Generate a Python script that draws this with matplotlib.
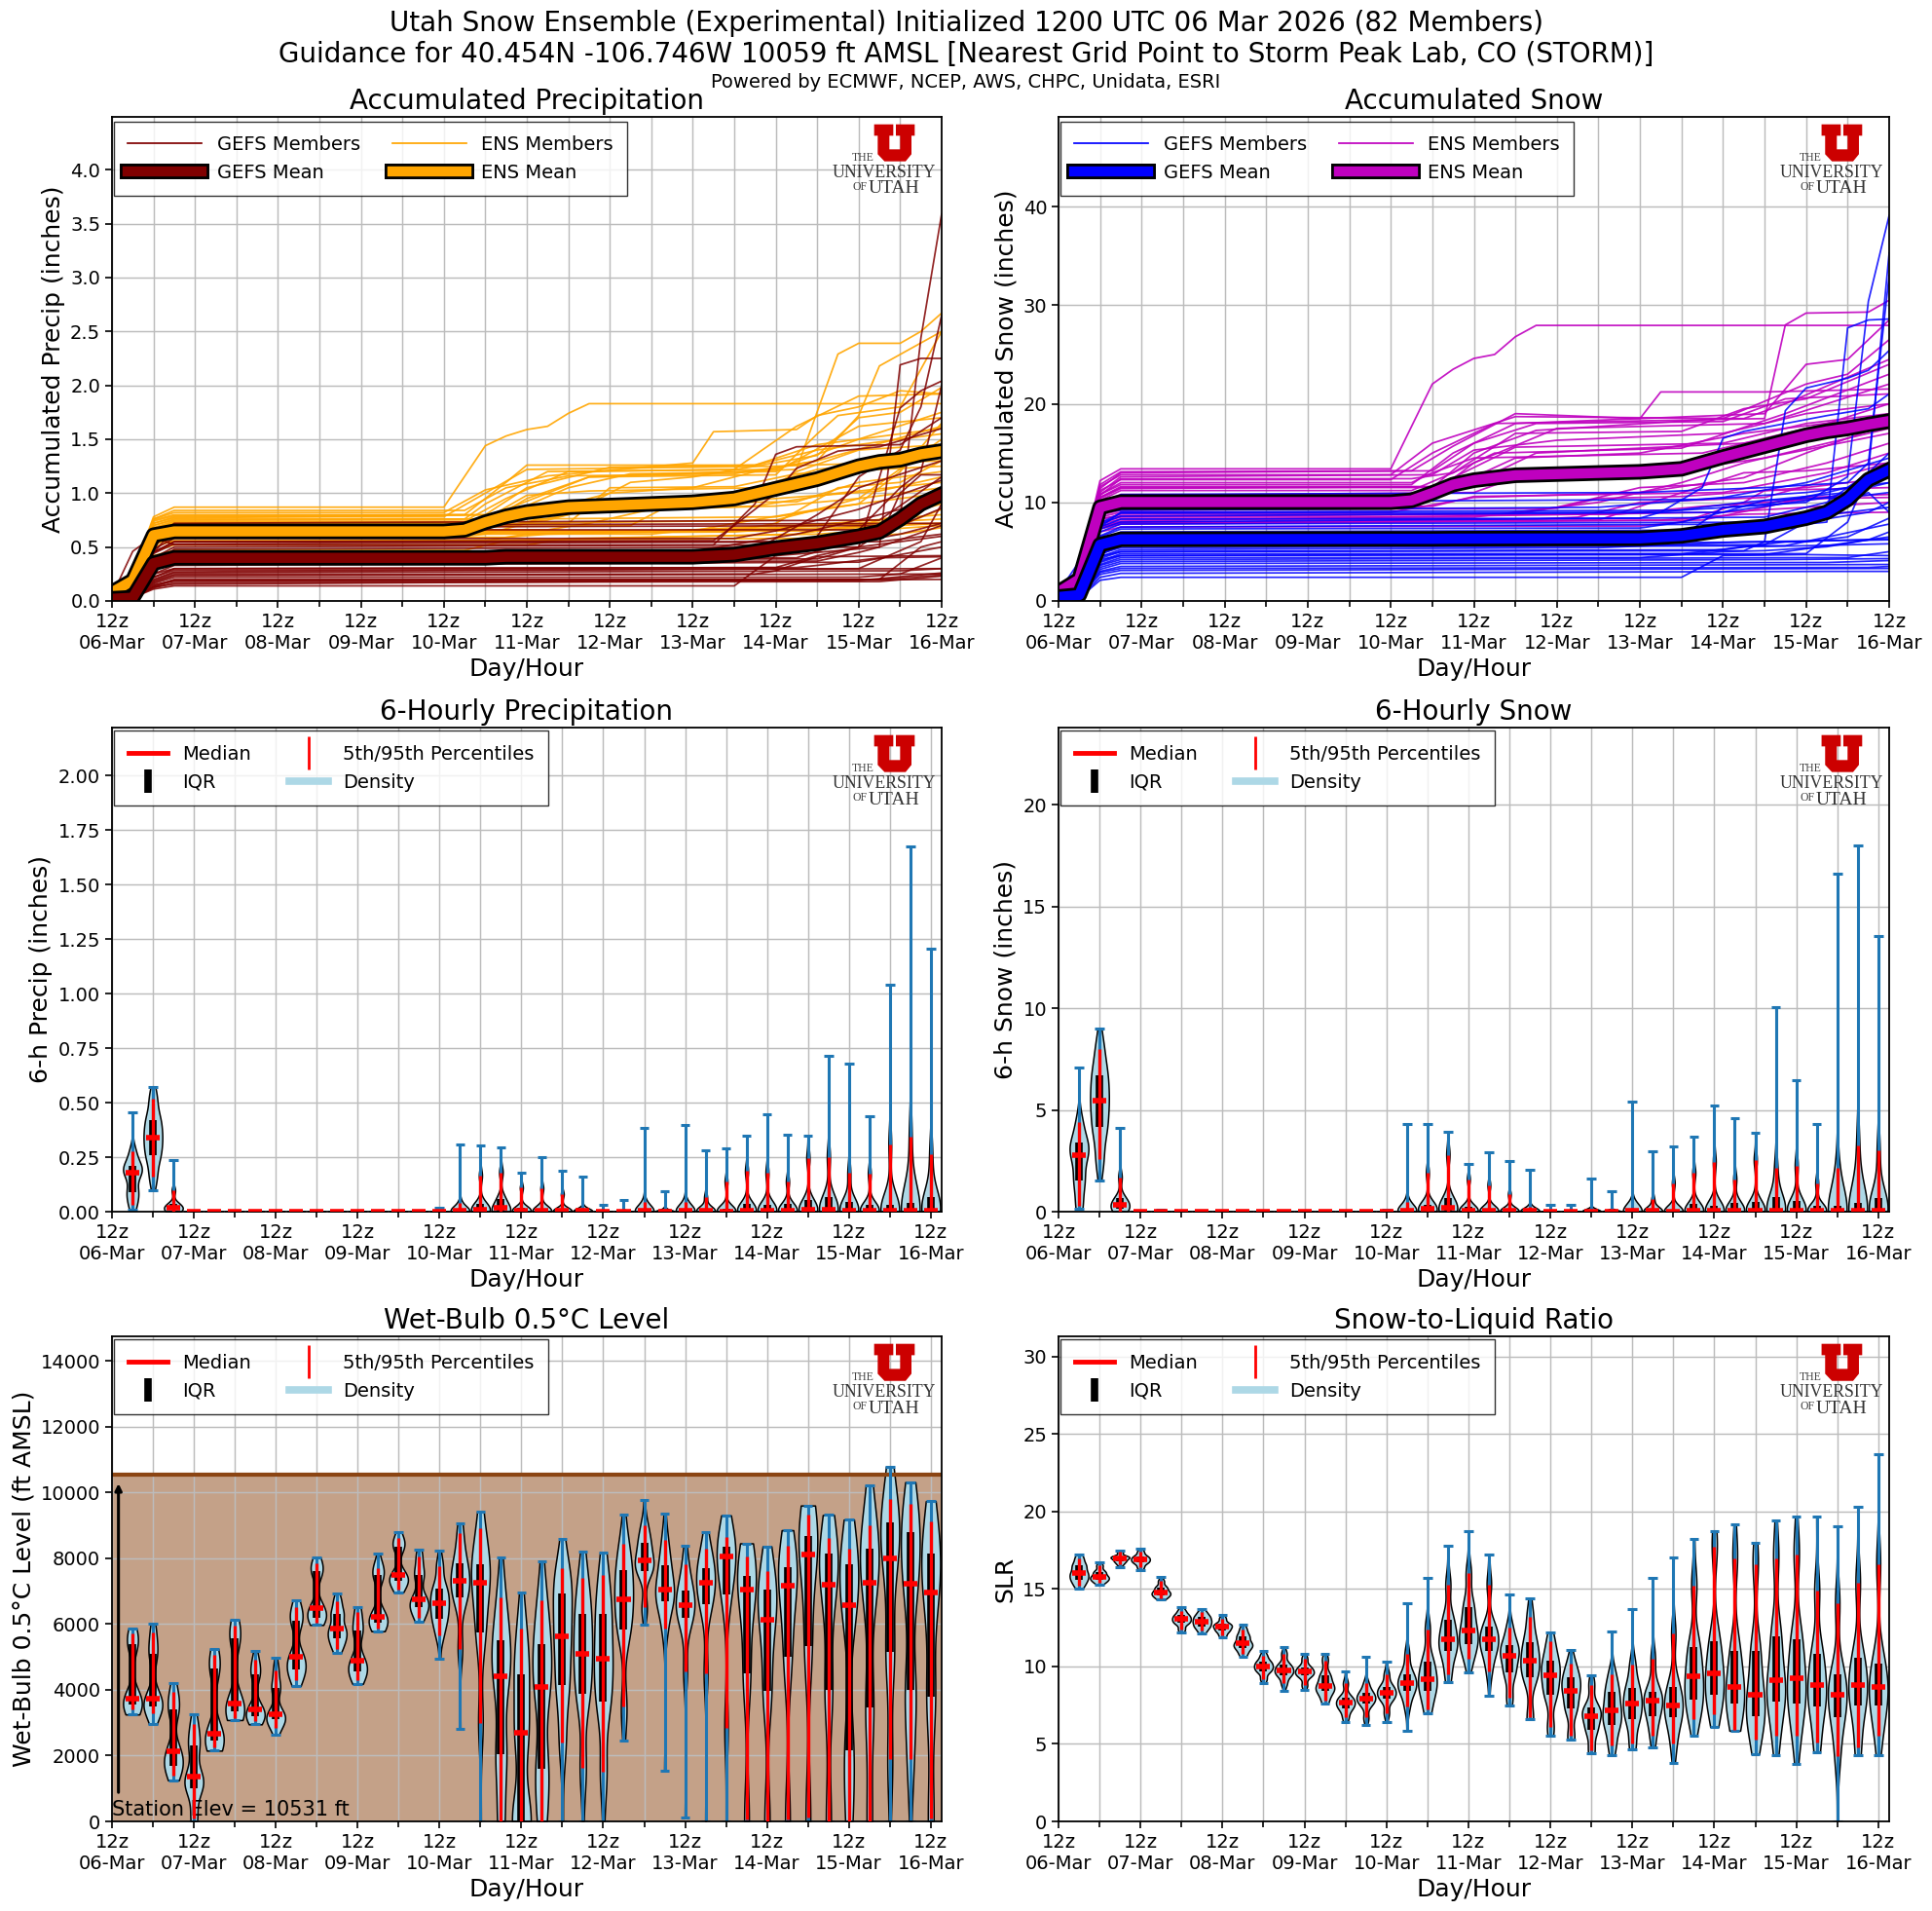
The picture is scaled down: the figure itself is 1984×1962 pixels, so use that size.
import numpy as np
import matplotlib
matplotlib.use("Agg")
import matplotlib.pyplot as plt
from matplotlib.lines import Line2D
from matplotlib.patches import Polygon
from matplotlib.ticker import MultipleLocator, FixedLocator, FixedFormatter, NullFormatter
import matplotlib.patheffects as pe

W, H = 1984, 1962
days = ["06-Mar", "07-Mar", "08-Mar", "09-Mar", "10-Mar", "11-Mar", "12-Mar", "13-Mar", "14-Mar", "15-Mar", "16-Mar"]
day_hours = [24*i for i in range(11)]
half_day_hours = [12 + 24*i for i in range(10)]
violin_hours = [6*i for i in range(1, 41)]

# ensemble means
mean_hours = [0, 6, 12, 18, 96, 102, 108, 114, 120, 132, 168, 180, 192, 204, 216, 222, 228, 234, 240]
gefs_precip_mean = [.02, .03, .35, .40, .40, .40, .40, .41, .41, .41, .41, .43, .49, .535, .60, .64, .76, .90, .99]
ens_precip_mean = [.08, .19, .61, .645, .645, .66, .73, .785, .825, .87, .915, .95, 1.04, 1.13, 1.25, 1.29, 1.31, 1.36, 1.39]
gefs_snow_mean = [.4, .6, 5.7, 6.25, 6.3, 6.3, 6.3, 6.32, 6.32, 6.33, 6.35, 6.6, 7.2, 7.55, 8.4, 9, 10.3, 12.3, 13.3]
ens_snow_mean = [.9, 2.2, 9.5, 10.03, 10.03, 10.2, 10.95, 11.8, 12.25, 12.75, 13.1, 13.4, 14.6, 15.7, 16.8, 17.2, 17.5, 17.9, 18.25]

# members, read as (hour, value) knots of each line
gefs_precip_members = [
    [(0,.02),(6,.03),(12,.11),(18,.14),(180,.14),(192,.42),(204,.45),(222,.5),(240,.7)],
    [(0,.02),(6,.03),(12,.12),(18,.17),(222,.18),(240,.23)],
    [(0,.02),(6,.04),(12,.14),(18,.2),(222,.2),(240,.24)],
    [(0,.02),(6,.04),(12,.16),(18,.22),(216,.22),(228,.25),(240,.4)],
    [(0,.02),(6,.04),(12,.18),(18,.245),(186,.25),(192,.28),(204,.41),(240,.42)],
    [(0,.02),(6,.05),(12,.2),(18,.27),(216,.3),(234,.55),(240,.9)],
    [(0,.03),(6,.05),(12,.22),(18,.30),(198,.31),(204,.33),(222,.4),(240,.41)],
    [(0,.03),(6,.05),(12,.25),(18,.33),(216,.36),(240,.5)],
    [(0,.03),(6,.06),(12,.3),(18,.36),(204,.37),(216,.45),(222,.5),(228,2.19),(234,2.25),(240,2.25)],
    [(0,.03),(6,.06),(12,.32),(18,.38),(204,.39),(216,.5),(228,.76),(234,2.44),(240,3.59)],
    [(0,.03),(6,.06),(12,.25),(18,.30),(192,.31),(204,.42),(216,.5),(228,1.79),(234,1.95),(240,2.04)],
    [(0,.05),(6,.46),(12,.6),(18,.52),(174,.52),(186,.9),(192,1.36),(198,1.43),(228,1.45),(240,1.7)],
    [(0,.04),(6,.2),(12,.45),(18,.55),(174,.56),(180,.7),(192,1.0),(198,1.23),(210,1.39),(222,1.43),(240,1.6)],
    [(0,.04),(6,.1),(12,.4),(18,.50),(198,.52),(204,.6),(216,1.15),(228,1.4),(234,1.8),(240,2.65)],
    [(0,.05),(6,.12),(12,.45),(18,.66),(216,.66),(228,1.05),(234,1.2),(240,2.0)],
    [(0,.05),(6,.15),(12,.55),(18,.70),(240,.72)],
    [(0,.05),(6,.15),(12,.55),(18,.72),(222,.75),(240,1.15)],
    [(0,.04),(6,.08),(12,.38),(18,.46),(168,.46),(198,.62),(216,.75),(228,.85),(240,1.0)],
    [(0,.03),(6,.07),(12,.33),(18,.40),(198,.4),(210,.52),(222,.58),(228,1.0),(234,1.17),(240,1.17)],
    [(0,.03),(6,.08),(12,.36),(18,.43),(180,.44),(186,.47),(204,.8),(216,1.05),(240,1.3)],
    [(0,.04),(6,.1),(12,.48),(18,.58),(180,.58),(192,.65),(204,.75),(216,.85),(240,1.12)],
    [(0,.02),(6,.03),(12,.13),(18,.19),(222,.2),(234,.5),(240,.55)],
    [(0,.02),(6,.03),(12,.13),(18,.155),(240,.2)],
    [(0,.02),(6,.04),(12,.15),(18,.185),(216,.19),(240,.26)],
    [(0,.02),(6,.04),(12,.17),(18,.235),(240,.25)],
    [(0,.02),(6,.05),(12,.19),(18,.26),(228,.28),(240,.3)],
    [(0,.03),(6,.05),(12,.22),(18,.285),(240,.3)],
    [(0,.04),(6,.1),(12,.44),(18,.53),(222,.55),(240,.62)],
    [(0,.05),(6,.11),(12,.45),(18,.55),(216,.55),(228,.62),(240,.72)],
    [(0,.05),(6,.14),(12,.5),(18,.68),(228,.7),(240,.86)],
    [(0,.04),(6,.09),(12,.34),(18,.48),(216,.5),(228,.55),(240,.6)],
]
ens_precip_members = [
    [(0,.1),(6,.25),(12,.78),(18,.87),(96,.87),(108,1.44),(114,1.53),(120,1.59),(126,1.62),(132,1.74),(138,1.83),(240,1.83)],
    [(0,.1),(6,.24),(12,.76),(18,.82),(96,.82),(108,1.03),(126,1.16),(168,1.28),(174,1.57),(198,1.59),(204,1.72),(216,1.8),(228,1.95),(240,1.92)],
    [(0,.09),(6,.23),(12,.75),(18,.80),(102,.80),(114,1.1),(120,1.26),(186,1.26),(204,1.4),(240,1.55)],
    [(0,.09),(6,.22),(12,.72),(18,.78),(96,.78),(108,1.0),(120,1.22),(192,1.25),(240,1.3)],
    [(0,.09),(6,.22),(12,.7),(18,.76),(102,.76),(108,.9),(126,1.2),(192,1.22),(216,1.5),(240,1.75)],
    [(0,.08),(6,.21),(12,.68),(18,.74),(102,.74),(114,.95),(132,1.2),(180,1.22),(198,1.62),(216,1.9),(240,1.92)],
    [(0,.08),(6,.2),(12,.66),(18,.72),(108,.72),(120,.95),(138,1.15),(192,1.17),(204,1.55),(210,1.72),(228,1.8),(240,2.5)],
    [(0,.08),(6,.2),(12,.67),(18,.73),(102,.73),(114,.85),(138,1.15),(198,1.22),(210,2.29),(216,2.39),(228,2.39),(234,2.5),(240,2.67)],
    [(0,.08),(6,.2),(12,.65),(18,.71),(114,.72),(126,.85),(144,1.0),(168,1.05),(186,1.2),(204,1.3),(216,1.72),(222,2.18),(240,2.5)],
    [(0,.08),(6,.19),(12,.64),(18,.70),(114,.7),(132,.8),(150,1.1),(168,1.15),(204,1.35),(216,1.7),(228,1.75),(240,1.98)],
    [(0,.08),(6,.19),(12,.64),(18,.70),(114,.7),(126,.75),(144,.9),(186,.95),(198,1.2),(216,1.4),(240,1.45)],
    [(0,.07),(6,.18),(12,.62),(18,.68),(108,.68),(120,.72),(132,.9),(198,.92),(216,1.1),(240,1.2)],
    [(0,.07),(6,.18),(12,.6),(18,.66),(126,.66),(138,.72),(156,.85),(186,.88),(210,1.0),(240,1.1)],
    [(0,.07),(6,.16),(12,.55),(18,.60),(102,.6),(108,.62),(120,.72),(192,.75),(216,.95),(240,1.05)],
    [(0,.07),(6,.16),(12,.56),(18,.63),(204,.65),(216,.68),(240,.72)],
    [(0,.07),(6,.16),(12,.55),(18,.62),(156,.62),(168,.66),(192,.7),(240,.72)],
    [(0,.06),(6,.15),(12,.52),(18,.59),(114,.59),(126,.62),(186,.66),(228,.7),(240,.85)],
    [(0,.06),(6,.14),(12,.5),(18,.56),(108,.56),(120,.62),(192,.68),(240,.8)],
    [(0,.05),(6,.13),(12,.46),(18,.52),(120,.52),(132,.58),(204,.62),(240,.7)],
    [(0,.05),(6,.12),(12,.42),(18,.47),(102,.47),(114,.56),(198,.62),(216,.7),(240,.9)],
    [(0,.07),(6,.18),(12,.62),(18,.68),(108,.68),(120,.76),(192,.78),(216,.9),(228,1.2),(240,1.65)],
    [(0,.07),(6,.17),(12,.6),(18,.65),(168,.65),(180,.72),(204,.85),(240,1.0)],
    [(0,.08),(6,.2),(12,.66),(18,.72),(114,.72),(126,.84),(168,.86),(192,.88),(216,.95),(240,1.5)],
    [(0,.07),(6,.17),(12,.58),(18,.64),(180,.65),(192,.72),(210,1.05),(228,1.1),(240,1.3)],
    [(0,.1),(6,.24),(12,.76),(18,.84),(102,.84),(114,1.05),(132,1.16),(180,1.18),(204,1.3),(240,1.62)],
    [(0,.1),(6,.23),(12,.74),(18,.79),(108,.8),(120,1.05),(144,1.24),(186,1.26),(204,1.45),(240,1.6)],
    [(0,.09),(6,.22),(12,.72),(18,.77),(114,.8),(132,1.05),(150,1.18),(192,1.2),(216,1.62),(240,1.7)],
    [(0,.09),(6,.21),(12,.7),(18,.75),(108,.76),(120,.98),(138,1.02),(186,1.05),(204,1.22),(240,1.35)],
    [(0,.08),(6,.2),(12,.68),(18,.69),(132,.72),(144,1.05),(180,1.06),(198,1.18),(240,1.25)],
    [(0,.07),(6,.17),(12,.62),(18,.67),(150,.7),(162,.9),(192,.95),(222,1.02),(240,1.15)],
    [(0,.07),(6,.16),(12,.6),(18,.61),(180,.64),(204,.7),(240,.76)],
    [(0,.06),(6,.14),(12,.55),(18,.55),(198,.58),(228,.62),(240,.68)],
]
gefs_snow_members = [
    [(0,.2),(6,.3),(12,2.1),(18,2.4),(180,2.4),(192,4.6),(216,4.7),(240,4.6)],
    [(0,.2),(6,.3),(12,2.4),(18,2.8),(222,3),(240,3)],
    [(0,.2),(6,.4),(12,2.7),(18,3.1),(240,3.3)],
    [(0,.2),(6,.4),(12,3),(18,3.5),(240,3.7)],
    [(0,.3),(6,.4),(12,3.4),(18,4),(210,4.2),(240,4.3)],
    [(0,.3),(6,.5),(12,3.7),(18,4.4),(168,4.4),(192,5),(204,5.1),(222,5.5),(234,6.2),(240,7)],
    [(0,.3),(6,.5),(12,4),(18,4.8),(180,4.8),(186,5),(198,5.5),(216,5.6),(240,5.8)],
    [(0,.3),(6,.6),(12,4.5),(18,5.2),(156,5.4),(198,6),(240,6.2)],
    [(0,.5),(6,1),(12,6.5),(18,7.3),(168,7.4),(180,8),(192,9),(204,10.2),(216,10.4),(228,10.5),(240,11)],
    [(0,.5),(6,1),(12,7),(18,7.8),(216,8),(234,9),(240,10)],
    [(0,.6),(6,1.2),(12,7.5),(18,8.3),(168,8.4),(174,9),(186,11.5),(192,16.5),(198,17.2),(210,18),(222,18.8),(234,19.5),(240,21)],
    [(0,.4),(6,.8),(12,4.5),(18,5),(198,5.1),(204,6),(210,19.3),(216,21.6),(228,22.6),(234,23.4),(240,25.4)],
    [(0,.6),(6,1.5),(12,6),(18,7),(198,7.2),(222,8),(228,27.7),(234,28.5),(240,28.6)],
    [(0,.7),(6,1.8),(12,7.5),(18,9),(180,9.2),(216,10),(228,12.6),(234,30.4),(240,39.1)],
    [(0,.6),(6,1.4),(12,7.3),(18,8),(204,8.5),(222,10),(234,13),(240,35.3)],
    [(0,.9),(6,4),(12,9),(18,10.8),(168,11),(204,11.5),(228,12),(234,14),(240,33)],
    [(0,.5),(6,1.1),(12,5.5),(18,6),(180,6.5),(192,9.5),(204,9.8),(222,11),(228,11.5),(240,14)],
    [(0,.4),(6,.8),(12,5),(18,5.6),(204,5.7),(216,8),(228,10),(234,11),(240,9)],
    [(0,.8),(6,3),(12,9),(18,9.2),(156,9.5),(192,10.5),(216,12),(240,14.5)],
    [(0,.3),(6,.6),(12,4.2),(18,4.6),(216,4.8),(228,8),(234,13),(240,15)],
    [(0,.2),(6,.4),(12,2.9),(18,3.3),(234,3.4),(240,3.5)],
    [(0,.3),(6,.4),(12,3.2),(18,3.8),(222,3.9),(240,4.1)],
    [(0,.3),(6,.5),(12,3.6),(18,4.2),(228,4.4),(240,5)],
    [(0,.3),(6,.5),(12,3.9),(18,4.6),(204,4.7),(222,5.6),(240,6.5)],
    [(0,.3),(6,.6),(12,4.3),(18,5),(192,5.2),(210,6),(240,6.3)],
    [(0,.4),(6,.7),(12,4.8),(18,5.4),(210,5.6),(240,7.8)],
    [(0,.5),(6,1),(12,6.6),(18,7.5),(204,7.8),(228,9),(240,9.5)],
    [(0,.6),(6,1.2),(12,7.8),(18,8.6),(192,9),(222,10.5),(240,12)],
    [(0,.6),(6,1.3),(12,7.9),(18,8.9),(174,9),(198,10),(228,11),(240,13)],
    [(0,.4),(6,.7),(12,4.7),(18,5.6),(216,6),(228,6.5),(240,8.4)],
    [(0,.8),(6,3.4),(12,9.2),(18,10),(186,10.3),(216,11),(240,12)],
]
ens_snow_members = [
    [(0,1.2),(6,3.2),(12,12.2),(18,13.4),(96,13.4),(108,22),(114,23.5),(120,24.6),(126,25),(132,26.8),(138,27.95),(240,27.95)],
    [(0,1.2),(6,3.1),(12,11.8),(18,13.1),(102,13.2),(114,15.7),(132,19),(168,18.5),(174,21.2),(204,21.2),(240,21.5)],
    [(0,1.1),(6,3),(12,11.6),(18,12.8),(96,12.8),(108,16),(132,18.7),(198,18.5),(210,20),(240,24.5)],
    [(0,1.1),(6,2.9),(12,11.2),(18,12.3),(96,12.3),(108,15),(126,18),(204,18.5),(210,28),(216,29.2),(234,29.3),(240,30.5)],
    [(0,1.1),(6,2.8),(12,10.8),(18,11.8),(102,11.8),(114,15),(132,18),(204,19),(216,24),(228,24.5),(240,28.5)],
    [(0,1),(6,2.7),(12,10.5),(18,11.5),(108,11.5),(120,15),(138,17.3),(192,18.5),(216,22),(228,23),(240,26.5)],
    [(0,1),(6,2.6),(12,10.2),(18,11.2),(102,11.2),(114,13),(132,17),(180,17.2),(198,19.5),(216,20.5),(240,24)],
    [(0,1),(6,2.5),(12,10),(18,10.8),(108,10.8),(120,14),(144,17.5),(204,18),(222,20),(240,22)],
    [(0,1),(6,2.5),(12,10.8),(18,12),(102,12),(108,13),(120,14.5),(186,15),(204,16.5),(222,18),(240,20)],
    [(0,1),(6,2.5),(12,10.5),(18,11.6),(108,11.6),(114,12.5),(132,15.6),(192,16),(216,18),(240,19)],
    [(0,.9),(6,2.3),(12,9.8),(18,10.5),(108,10.5),(120,12),(138,15),(198,16),(216,17),(240,18)],
    [(0,.8),(6,2),(12,8.5),(18,9),(96,9),(120,10.5),(168,11),(198,12.5),(216,15),(240,18)],
    [(0,.8),(6,2),(12,8),(18,8.5),(120,8.5),(132,9),(156,10),(180,12),(198,14),(216,15.5),(240,17.5)],
    [(0,.7),(6,1.9),(12,7.8),(18,8.3),(138,8.3),(150,8.5),(168,10),(204,10.5),(240,14)],
    [(0,.7),(6,1.8),(12,7.5),(18,8),(156,8.2),(174,10.3),(198,13),(216,13.2),(240,14)],
    [(0,.7),(6,1.7),(12,7.3),(18,7.8),(186,8.2),(204,9.5),(216,10.5),(240,10.8)],
    [(0,.7),(6,1.7),(12,7),(18,7.5),(168,7.6),(180,8),(198,10),(204,11.2),(240,11.5)],
    [(0,.8),(6,2),(12,8.2),(18,8.8),(132,8.8),(144,9.5),(168,11.5),(198,12),(222,14),(240,16)],
    [(0,.7),(6,1.8),(12,7.6),(18,8.1),(192,9),(240,10)],
    [(0,.9),(6,2.2),(12,9),(18,9.6),(108,9.6),(120,10.6),(192,11),(222,13),(240,15)],
    [(0,1),(6,2.6),(12,10.7),(18,12.4),(102,12.4),(114,13),(126,15),(180,15.5),(210,19),(240,23)],
    [(0,1.1),(6,2.9),(12,11.4),(18,13),(108,13.2),(120,16),(138,18),(192,18.2),(210,20.5),(240,21)],
    [(0,1.1),(6,2.8),(12,11),(18,12.6),(108,12.8),(120,15.3),(144,16.3),(192,17),(216,19),(240,20)],
    [(0,1),(6,2.6),(12,10.4),(18,11.4),(114,11.6),(132,14.5),(168,15),(198,17),(240,18.8)],
    [(0,.9),(6,2.4),(12,9.9),(18,10.7),(120,11),(132,12.5),(174,13),(204,14.5),(240,17)],
    [(0,.8),(6,2.1),(12,8.7),(18,9.2),(144,9.4),(156,10.4),(180,10.6),(216,11.5),(240,12.5)],
    [(0,.8),(6,2),(12,8.4),(18,8.6),(162,8.8),(186,9.6),(222,10.4),(240,10.5)],
    [(0,.7),(6,1.8),(12,7.4),(18,7.9),(174,8.2),(198,8.8),(240,9)],
]

# 6-hourly distributions, one value per 6 h step from +6 to +240
precip_max = [.454,.573,.235,0,0,0,0,0,0,0,0,0,0,0,0,.018,.31,.305,.296,.18,.25,.186,.16,.033,.052,.382,.092,.396,.28,.289,.347,.445,.351,.347,.713,.677,.436,1.042,1.676,1.204]
precip_p95 = [.275,.518,.097,0,0,0,0,0,0,0,0,0,0,0,0,0,.04,.165,.18,.11,.107,.08,.02,.005,.005,.045,.015,.045,.067,.138,.186,.178,.138,.245,.25,.178,.174,.308,.342,.265]
precip_q3 = [.21,.42,.034,0,0,0,0,0,0,0,0,0,0,0,0,0,.01,.037,.06,.02,.015,.01,.008,.002,.002,.01,.004,.012,.015,.015,.037,.033,.037,.052,.067,.045,.03,.03,.042,.067]
precip_med = [.177,.34,.02,0,0,0,0,0,0,0,0,0,0,0,0,0,.005,.01,.016,.005,.005,.003,.003,0,0,.003,.002,.003,.003,.002,.004,.004,.004,.008,.008,.005,.005,.005,.005,.005]
precip_q1 = [.09,.26,.007] + [0]*37
precip_p5 = [.03,.163] + [0]*38
precip_min = [.01,.097] + [0]*38

snow_max = [7.1,9,4.1,.03,.1,.03,.03,.03,.03,.03,.03,.03,.03,.03,.03,.1,4.3,4.3,3.95,2.35,2.9,2.5,2.05,.35,.35,1.65,1,5.4,2.95,3.2,3.7,5.2,4.6,3.9,10.05,6.45,4.3,16.6,18,13.55]
snow_p95 = [4.4,8,1.7,0,0,0,0,0,0,0,0,0,0,0,0,0,.5,1.9,2.8,1.6,1.3,.85,.25,.05,.05,.1,.05,.2,.6,1.4,1.9,2.45,1.6,2.55,2.15,2.25,1.4,2.15,3.25,3]
snow_q3 = [3.4,6.7,.65,0,0,0,0,0,0,0,0,0,0,0,0,0,.15,.35,.65,.25,.15,.1,.1,.02,.02,.03,.02,.05,.1,.1,.4,.3,.45,.5,.7,.55,.3,.3,.45,.65]
snow_med = [2.8,5.45,.35,0,0,0,0,0,0,0,0,0,0,0,0,0,.05,.15,.2,.05,.05,.03,.03,0,0,0,0,.03,.03,.02,.03,.03,.03,.05,.05,.03,.03,.03,.03,.05]
snow_q1 = [1.55,4.15,.15] + [0]*37
snow_p5 = [.3,2.6] + [0]*38
snow_min = [.15,1.55] + [0]*38

wb_max = [5850,6000,4200,3250,5250,6130,5180,4970,6720,8020,6930,6500,8130,8800,8250,8230,9070,9420,8020,6950,7900,8570,8200,8170,9320,9780,9350,8380,8800,9300,8450,8360,8850,9600,9310,9170,10220,10780,10310,9730]
wb_p95 = [5700,5750,3950,2950,5050,5950,4900,4600,6500,7850,6700,6350,7700,8600,8050,7750,8750,8900,6800,5850,6720,7700,7400,7500,8450,9000,8550,7800,8300,8650,8050,7600,8370,9320,8600,8300,9000,9800,9650,9130]
wb_q3 = [5400,5100,3400,2320,4650,5550,4480,4050,6100,7600,6300,5800,7500,8350,7500,7070,7850,7820,5500,4470,5400,6930,6300,6300,7630,8470,7770,7020,7700,8350,7470,7030,7720,8680,8150,7800,8280,9100,8800,8150]
wb_med = [3720,3720,2120,1350,2650,3580,3400,3270,5000,6480,5850,4880,6230,7480,6750,6620,7300,7250,4400,2680,4070,5620,5100,4930,6750,7920,7030,6560,7250,8060,7030,6130,7170,8100,7200,6570,7260,8000,7230,6950]
wb_q1 = [3550,3500,1700,1020,2450,3350,3200,3100,4620,6200,5550,4550,6050,7300,6500,6150,6800,5750,2050,0,1600,4150,3870,3650,5820,7600,6700,6180,6600,6900,4500,3970,5000,5330,4000,2150,3470,5150,4000,3780]
wb_p5 = [3400,3300,1400,100,2250,3150,3050,2850,4300,6050,5250,4300,5850,7050,6200,5650,5250,3000,0,0,0,2400,1630,1500,3480,6500,5870,4550,4500,2850,50,0,50,120,0,0,0,1900,1900,100]
wb_min = [3250,2950,1250,0,2150,3080,2950,2620,4120,5970,5120,4180,5780,6970,6080,4950,2800,0,0,0,0,0,0,0,2450,5970,1530,120,0,0,0,0,0,0,0,0,0,0,0,0]

slr_max = [17.2,16.7,17.5,17.6,15.8,13.8,13.7,13.3,12.7,11,11.25,10.8,10.8,9.7,10.6,10.3,14.1,15.7,17.8,18.7,17.2,14.65,14.4,12.2,11.05,9.45,12.25,13.7,15.7,17.05,18.2,18.75,19.2,18,19.4,19.65,19.65,19.05,20.3,23.7]
slr_p95 = [17,16.5,17.4,17.4,15.5,13.6,13.5,13.1,12.4,10.7,10.8,10.5,10.4,8.9,8.9,9.5,10.8,12.4,15.3,16,15.3,12.5,13.2,11.6,10.2,8.8,9.5,10.1,10.5,12.1,15.2,17.7,17,16.6,17,17.2,14.9,14.05,15.4,16.6]
slr_q3 = [16.5,16.1,17.1,17.1,15.1,13.3,13.2,12.75,11.95,10.3,10.1,9.95,9.4,8,8.3,8.7,9.5,10.3,13,13.85,12.55,11.4,11.55,10.4,9.3,7.35,8.35,8.6,8.35,8.7,11.25,11.6,11,11,11.95,11.75,10.8,9.5,10.55,10.2]
slr_med = [16,15.8,17,16.9,14.8,13.05,12.9,12.55,11.5,10,9.75,9.65,8.75,7.65,7.95,8.3,8.9,9.2,11.75,12.35,11.75,10.7,10.35,9.4,8.45,6.8,7.15,7.6,7.8,7.5,9.35,9.55,8.7,8.2,9.1,9.25,8.8,8.2,8.8,8.65]
slr_q1 = [15.6,15.6,16.8,16.7,14.6,12.8,12.6,12.3,11.2,9.7,9.45,9.4,8.4,7.3,7.6,7.9,8.4,8.4,11,11.45,11,9.6,9.3,8.2,7.3,5.9,6.2,6.6,6.8,6.7,7.85,8.2,7.6,6.8,7.75,7.6,7.4,6.7,7.5,7.5]
slr_p5 = [15.2,15.4,16.6,16.4,14.4,12.4,12.3,12,10.8,9.2,8.9,8.8,7.8,6.7,6.7,7,7.4,7.2,9.5,10.5,9.7,8,6.7,6.1,5.5,4.6,4.9,5,5.5,5,6.6,6.9,5.9,5.3,5.5,5.5,5.1,4.2,4.8,5.5]
slr_min = [15,15.3,16.4,16.2,14.3,12.2,12.1,11.85,10.6,8.9,8.4,8.5,7.6,6.4,6.25,6.4,5.85,7,9,9.6,8.1,7.45,6.6,5.5,5.25,4.4,4.25,4.65,4.75,3.75,5.5,6.1,5.85,4.35,4.3,3.7,4.45,0,4.25,4.3]

station_elev = 10531


def make_axes(left, top, right, bottom):
    return plt.gcf().add_axes([left/W, 1-bottom/H, (right-left)/W, (bottom-top)/H])


def add_logo(ax):
    # logo is placed in pixels from the top right corner of the axes
    w, h = 852., 497.
    u = [(203,53),(262,53),(262,88),(250,88),(250,130),(283,130),(283,88),(270,88),(270,53),(328,53),(328,88),
         (318,88),(318,145),(300,167),(235,167),(214,145),(214,88),(203,88)]
    pts = [(1-(411-x)/3/w, 1-(y-30)/3/h) for x, y in u]
    ax.add_patch(Polygon(pts, closed=True, transform=ax.transAxes, fc="#cc0000", ec="none", zorder=5))
    ax.text(1-(411-168)/3/w, 1-(155-30)/3/h, "THE", transform=ax.transAxes, family="Liberation Serif", fontsize=8.5,
            color="#444444", ha="center", va="center", zorder=5)
    ax.text(1-(411-233)/3/w, 1-(202-30)/3/h, "UNIVERSITY", transform=ax.transAxes, family="Liberation Serif", fontsize=12.8,
            color="#333333", ha="center", va="center", zorder=5)
    ax.text(1-(411-158)/3/w, 1-(246-30)/3/h, "OF", transform=ax.transAxes, family="Liberation Serif", fontsize=8.5,
            color="#444444", ha="center", va="center", zorder=5)
    ax.text(1-(411-264)/3/w, 1-(252-30)/3/h, "UTAH", transform=ax.transAxes, family="Liberation Serif", fontsize=14,
            color="#333333", ha="center", va="center", zorder=5)


def style_axes(ax, title, ylabel, xmax, ymax, ystep):
    ax.set_xlim(0, xmax)
    ax.set_ylim(0, ymax)
    ax.xaxis.set_major_locator(FixedLocator(day_hours))
    ax.xaxis.set_major_formatter(FixedFormatter(["12z\n"+d for d in days]))
    ax.xaxis.set_minor_locator(FixedLocator(half_day_hours))
    ax.xaxis.set_minor_formatter(NullFormatter())
    ax.yaxis.set_major_locator(MultipleLocator(ystep))
    ax.tick_params(axis="both", which="major", labelsize=14, length=5, width=1.2)
    ax.tick_params(axis="x", which="minor", length=4, width=1.2)
    ax.grid(True, which="major", color="#bcbcbc", lw=1.05)
    ax.grid(True, which="minor", axis="x", color="#bcbcbc", lw=1.05)
    ax.set_axisbelow(True)
    for s in ax.spines.values():
        s.set_linewidth(1.3)
    ax.set_title(title, fontsize=20)
    ax.set_xlabel("Day/Hour", fontsize=18)
    ax.set_ylabel(ylabel, fontsize=18)
    add_logo(ax)


def mean_line(color):
    return dict(color=color, lw=7.5, path_effects=[pe.Stroke(linewidth=11.5, foreground="k"), pe.Normal()])


def plot_accum(ax, gefs_members, ens_members, gefs_mean, ens_mean, gefs_color, ens_color, axis_args):
    for m in ens_members:
        ax.plot([p[0] for p in m], [p[1] for p in m], color=ens_color, lw=1.25, alpha=.9)
    for m in gefs_members:
        ax.plot([p[0] for p in m], [p[1] for p in m], color=gefs_color, lw=1.25, alpha=.85)
    ax.plot(mean_hours, ens_mean, **mean_line(ens_color))
    ax.plot(mean_hours, gefs_mean, **mean_line(gefs_color))
    style_axes(ax, *axis_args)
    handles = [Line2D([], [], color=gefs_color, lw=1.25), Line2D([], [], **mean_line(gefs_color)),
               Line2D([], [], color=ens_color, lw=1.25), Line2D([], [], **mean_line(ens_color))]
    labels = ["GEFS Members", "GEFS Mean", "ENS Members", "ENS Mean"]
    ax.legend(handles, labels, ncol=2, loc="upper left", bbox_to_anchor=(0, .995), fontsize=14, fancybox=False, edgecolor="k",
              borderaxespad=.12, columnspacing=1.7, labelspacing=.5, borderpad=.72, handlelength=3.9)


def plot_violin(ax, vmin, p5, q1, med, q3, p95, vmax, axis_args):
    # quantiles repeated by the share of members they stand for
    weights = [2, 10, 18, 20, 18, 10, 2]
    samples = [np.repeat(s, weights) for s in zip(vmin, p5, q1, med, q3, p95, vmax)]
    parts = ax.violinplot(samples, positions=violin_hours, widths=5.5, showextrema=True, points=120)
    for b in parts["bodies"]:
        b.set_facecolor("lightblue")
        b.set_edgecolor("k")
        b.set_linewidth(1.1)
        b.set_alpha(1)
    for k in ["cbars", "cmins", "cmaxes"]:
        parts[k].set_linewidth(2.2)
        parts[k].set_color("tab:blue")
    ax.vlines(violin_hours, q1, q3, color="k", lw=5.5, zorder=3)
    ax.vlines(violin_hours, p5, p95, color="r", lw=2.4, zorder=3.1)
    hh = np.array(violin_hours)
    ax.hlines(med, hh-2, hh+2, color="r", lw=4, zorder=3.2)
    style_axes(ax, *axis_args)
    handles = [Line2D([], [], color="r", lw=3.5), Line2D([], [], color="k", marker="|", ms=17, mew=5.5, ls="none"),
               Line2D([], [], color="r", marker="|", ms=25, mew=2, ls="none"), Line2D([], [], color="lightblue", lw=5.5)]
    labels = ["Median", "IQR", "5th/95th Percentiles", "Density"]
    ax.legend(handles, labels, ncol=2, loc="upper left", bbox_to_anchor=(0, .998), fontsize=14, fancybox=False, edgecolor="k",
              borderaxespad=.12, columnspacing=2.0, labelspacing=.5, borderpad=.75, handlelength=2.05)


fig = plt.figure(figsize=(W/100, H/100), dpi=100)

ax1 = make_axes(115, 120, 967, 617)
plot_accum(ax1, gefs_precip_members, ens_precip_members, gefs_precip_mean, ens_precip_mean, "maroon", "orange",
           ("Accumulated Precipitation", "Accumulated Precip (inches)", 240, 4.49, .5))
ax2 = make_axes(1087, 120, 1940, 617)
plot_accum(ax2, gefs_snow_members, ens_snow_members, gefs_snow_mean, ens_snow_mean, "blue", "m",
           ("Accumulated Snow", "Accumulated Snow (inches)", 240, 49.1, 10))

ax3 = make_axes(115, 747, 967, 1244)
plot_violin(ax3, precip_min, precip_p5, precip_q1, precip_med, precip_q3, precip_p95, precip_max,
            ("6-Hourly Precipitation", "6-h Precip (inches)", 243.2, 2.22, .25))
ax4 = make_axes(1087, 747, 1940, 1244)
plot_violin(ax4, snow_min, snow_p5, snow_q1, snow_med, snow_q3, snow_p95, snow_max,
            ("6-Hourly Snow", "6-h Snow (inches)", 243.2, 23.8, 5))

ax5 = make_axes(115, 1372, 967, 1870)
ax5.axhspan(0, station_elev, color="saddlebrown", alpha=.5, lw=0, zorder=.3)
ax5.axhline(station_elev, color="saddlebrown", lw=3, zorder=1.5)
plot_violin(ax5, wb_min, wb_p5, wb_q1, wb_med, wb_q3, wb_p95, wb_max,
            ("Wet-Bulb 0.5°C Level", "Wet-Bulb 0.5°C Level (ft AMSL)", 243.2, 14740, 2000))
ax5.annotate("", xy=(1.9, 10350), xytext=(1.9, 800), arrowprops=dict(arrowstyle="-|>", color="k", lw=2.2))
ax5.text(0, 60, "Station Elev = %d ft" % station_elev, fontsize=15, ha="left", va="bottom")

ax6 = make_axes(1087, 1372, 1940, 1870)
plot_violin(ax6, slr_min, slr_p5, slr_q1, slr_med, slr_q3, slr_p95, slr_max,
            ("Snow-to-Liquid Ratio", "SLR", 243.2, 31.3, 5))

fig.text(.5, 1-24.5/H, "Utah Snow Ensemble (Experimental) Initialized 1200 UTC 06 Mar 2026 (82 Members)", fontsize=20, ha="center", va="center")
fig.text(.5, 1-56/H, "Guidance for 40.454N -106.746W 10059 ft AMSL [Nearest Grid Point to Storm Peak Lab, CO (STORM)]", fontsize=20, ha="center", va="center")
fig.text(.5, 1-84/H, "Powered by ECMWF, NCEP, AWS, CHPC, Unidata, ESRI", fontsize=14, ha="center", va="center")

fig.savefig("out.png", dpi=100)
